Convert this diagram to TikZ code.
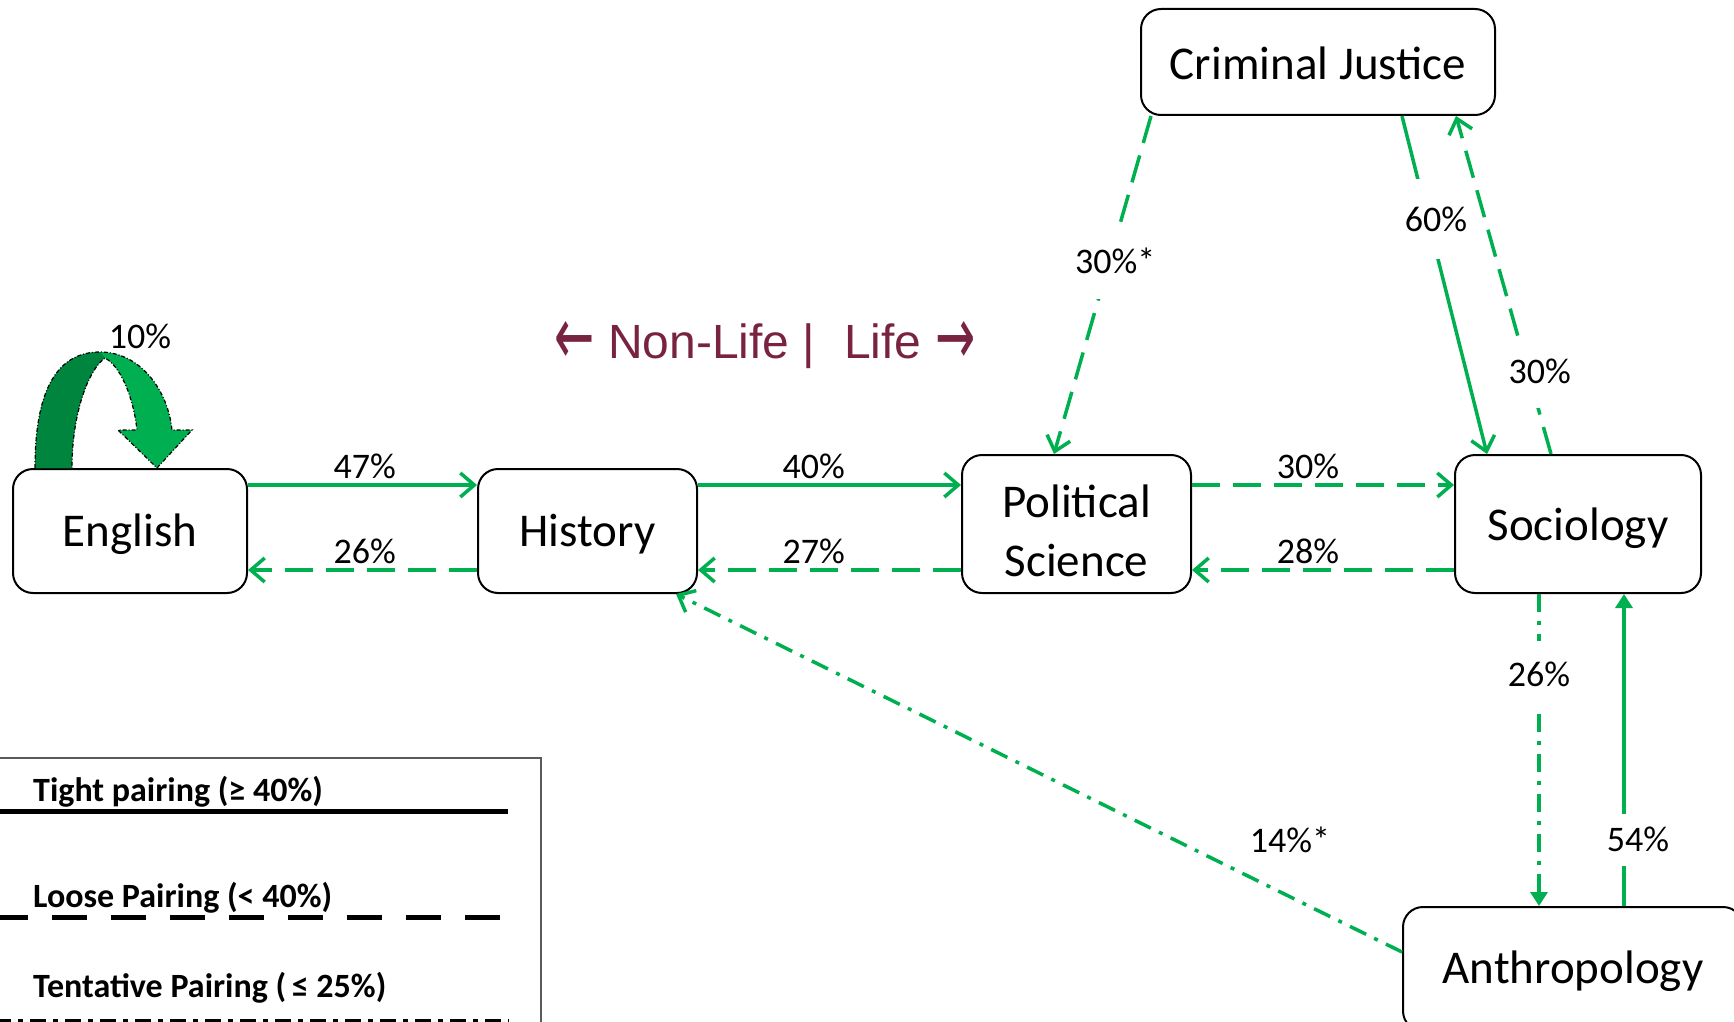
\documentclass[tikz,border=0pt]{standalone}
\usepackage{fontspec}
\setmainfont{Carlito}
\newfontfamily\arialfont{Liberation Sans}
\newfontfamily\arrowfont{DejaVu Sans}
\usetikzlibrary{arrows.meta,calc}

\definecolor{pairgreen}{RGB}{0,176,80}
\definecolor{loopdark}{RGB}{0,133,62}
\definecolor{dividerred}{RGB}{120,35,65}
\definecolor{legendgray}{RGB}{90,90,90}

% shift the ink of a line without changing its box
\newcommand{\lowered}[2]{\raisebox{-#1}[\height][\depth]{#2}}
\newcommand{\bigarrow}[1]{\raisebox{-6pt}{\scalebox{1.0}[1.7]{\arrowfont #1}}}

\tikzset{
  discipline/.style={draw=black, line width=2pt, rounded corners=20pt, fill=white,
    inner sep=0pt, align=center, font=\fontsize{47}{59}\selectfont},
  pct/.style={font=\fontsize{36}{40}\selectfont, inner xsep=2pt, inner ysep=4pt},
  gap/.style={pct, fill=white, inner ysep=0pt},
  link/.style={draw=pairgreen, line width=3.5pt},
  tight/.style={link},
  loose/.style={link, dash pattern=on 28pt off 13pt},
  tentative/.style={link, dash pattern=on 18pt off 9pt on 4pt off 9pt},
  barb/.style={-{Straight Barb[length=14pt,width=24pt]}},
  solidtip/.style={-{Triangle[length=14pt,width=17pt]}},
  legendtext/.style={font=\bfseries\fontsize{34}{40}\selectfont, inner sep=0pt, anchor=base west},
  legendline/.style={line width=5pt, black},
  loopoutline/.style={black, line width=1.2pt, dash pattern=on 4pt off 2pt on 1pt off 2pt},
}

\begin{document}
\begin{tikzpicture}[x=1pt,y=-1pt]
\useasboundingbox (0,0) rectangle (1734,1022);
\clip (0,0) rectangle (1734,1022);

% disciplines
\node[discipline, minimum width=234pt, minimum height=124pt] (eng)  at (130,531)    {\lowered{3.5pt}{English}};
\node[discipline, minimum width=219pt, minimum height=124pt] (hist) at (587.5,531)  {\lowered{3.5pt}{History}};
\node[discipline, minimum width=229pt, minimum height=138pt] (pol)  at (1076.5,524) {\lowered{6.5pt}{Political}\\\lowered{6.5pt}{Science}};
\node[discipline, minimum width=246pt, minimum height=138pt] (soc)  at (1578,524)   {\lowered{4.5pt}{Sociology}};
\node[discipline, minimum width=354pt, minimum height=106pt] (cj)   at (1318,62)    {\lowered{1pt}{Criminal Justice}};
\node[discipline, minimum width=340pt, minimum height=124pt] (ant)  at (1573,969)   {\lowered{2pt}{Anthropology}};

% rows of the horizontal pairings
\coordinate (upper) at (0,485);
\coordinate (lower) at (0,570);

\draw[tight,barb] (eng.east |- upper) -- node[pct,above,pos=0.51] (p47) {47\%} (hist.west |- upper);
\draw[loose,barb] (hist.west |- lower) -- node[pct,above,pos=0.49] (p26a) {26\%} (eng.east |- lower);
\draw[tight,barb] (hist.east |- upper) -- node[pct,above,pos=0.44] (p40) {40\%} (pol.west |- upper);
\draw[loose,barb] (pol.west |- lower) -- node[pct,above,pos=0.56] (p27) {27\%} (hist.east |- lower);
\draw[loose,barb] (pol.east |- upper) -- node[pct,above,pos=0.443] (p30a) {30\%} (soc.west |- upper);
\draw[loose,barb] (soc.west |- lower) -- node[pct,above,pos=0.557] (p28) {28\%} (pol.east |- lower);

% pairings with Criminal Justice
\draw[loose,barb] ($(cj.south west)+(11,0)$) -- node[gap,pos=0.43,xshift=6pt,minimum height=75pt] (p30b) {30\%*} ($(pol.north west)+(93,0)$);
\draw[tight,barb] ($(cj.south west)+(262,0)$) -- node[gap,pos=0.305,xshift=8pt,minimum height=80pt] (p60) {60\%} ($(soc.north west)+(33,0)$);
\draw[loose,barb] ($(soc.north west)+(97,0)$) -- node[gap,pos=0.244,xshift=12pt,minimum height=72pt] (p30c) {30\%} ($(cj.south east)+(-40,0)$);

% pairings with Anthropology
\draw[tentative,solidtip] ($(soc.south west)+(85,0)$) -- node[gap,pos=0.258,minimum height=68pt] (p26b) {26\%} ($(ant.north west)+(137,0)$);
\draw[tight,solidtip] ($(ant.north west)+(222,0)$) -- node[gap,pos=0.213,xshift=14pt,minimum height=52pt] (p54) {54\%} ($(soc.south west)+(170,0)$);
\draw[tentative,barb] ($(ant.north west)+(0,46)$) -- node[pct,pos=0.157,yshift=56pt,xshift=2pt] (p14) {14\%*} ($(hist.south east)+(-22,0)$);

% English returning to English
\fill[pairgreen] (35,468) .. controls (35,385) and (60,352) .. (100,352)
  .. controls (140,352) and (168,390) .. (172,430) -- (192,430) -- (157,468) -- (118,430) -- (137,430)
  .. controls (133,395) and (120,366) .. (105,358)
  .. controls (90,368) and (72,410) .. (72,468) -- cycle;
\fill[loopdark] (35,468) .. controls (35,385) and (60,352) .. (100,352) -- (105,358)
  .. controls (90,368) and (72,410) .. (72,468) -- cycle;
\draw[loopoutline] (35,468) .. controls (35,385) and (60,352) .. (100,352)
  .. controls (140,352) and (168,390) .. (172,430) -- (192,430) -- (157,468) -- (118,430) -- (137,430)
  .. controls (133,395) and (120,366) .. (105,358)
  .. controls (90,368) and (72,410) .. (72,468);
\node[pct, inner sep=0pt] (p10) at (140,336) {10\%};

% divider between the two groups of fields
\node[font=\arialfont\fontsize{48}{52}\selectfont, text=dividerred, anchor=base, inner sep=0pt]
  (divide) at (765,358) {\bigarrow{←} Non-Life |\hspace{0.6em}Life \bigarrow{→}};

% legend
\draw[legendgray, line width=2pt] (-10,758) rectangle (541,1040);
\node[legendtext] (tightlbl) at (33,801) {Tight pairing (≥ 40\%)};
\draw[legendline] (-5,811) -- (508,811);
\node[legendtext] (looselbl) at (33,907) {Loose Pairing (< 40\%)};
\draw[legendline, dash pattern=on 35pt off 24pt, dash phase=2pt] (-5,917) -- (509,917);
\node[legendtext] (tentlbl) at (33,997) {Tentative Pairing (\,≤ 25\%)};
\draw[legendline, dash pattern=on 16pt off 7pt on 5pt off 7pt] (-5,1021) -- (509,1021);
\end{tikzpicture}
\end{document}
